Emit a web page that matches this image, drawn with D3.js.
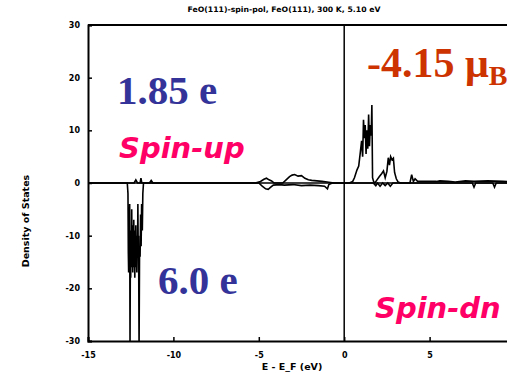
<!DOCTYPE html>
<html>
<head>
<meta charset="utf-8">
<script src="https://cdn.jsdelivr.net/npm/d3@7"></script>
<style>
html,body{margin:0;padding:0;background:#fff;overflow:hidden;}
svg{display:block;}
</style>
</head>
<body>
<script>
// ---- data ----
const xTicks = [-15, -10, -5, 0, 5];
const yTicks = [-30, -20, -10, 0, 10, 20, 30];
const xTickLabels = ["-15", "-10", "-5", "0", "5"];
const yTickLabels = ["-30", "-20", "-10", "0", "10", "20", "30"];

// spin-up DOS (plotted positive)
const upEnergy = [-15, -12.3, -12.2, -12.1, -11.95, -11.9, -11.85, -11.4, -11.3, -11.2, -11.1, -5.2, -4.9, -4.7, -4.55, -4.4, -4.25, -4.1, -3.6, -3.4, -3.2, -3.05, -2.9, -2.7, -2.5, -2.3, -2.1, -1.9, -1.6, -1.3, -1.0, -0.6, 0.3, 0.5, 0.6, 0.75, 0.85, 0.95, 1.02, 1.08, 1.13, 1.18, 1.23, 1.28, 1.33, 1.38, 1.43, 1.48, 1.53, 1.58, 1.62, 1.66, 1.72, 1.8, 1.9, 2.05, 2.2, 2.3, 2.4, 2.5, 2.58, 2.65, 2.72, 2.8, 2.88, 2.95, 3.05, 3.15, 3.3, 3.85, 3.95, 4.05, 4.15, 4.3, 4.6, 5.4, 5.6, 6.1, 6.5, 7.1, 7.6, 8.4, 9.3, 10];
const upDos = [0, 0, 0.6, 0, 0, 0.9, 0, 0, 0.5, 0, 0, 0, 0.3, 0.7, 0.9, 0.6, 0.4, 0, 0, 0.6, 1.2, 1.5, 1.6, 1.3, 1.4, 0.9, 0.6, 0.5, 0.4, 0.3, 0.2, 0, 0, 0.3, 1, 2.5, 3.2, 6, 8, 5, 12, 8.5, 11, 5.5, 10, 6.5, 13, 7, 11, 9, 14.8, 1, 0.3, 0, 0.5, 1.2, 1.8, 2.3, 1, 2.2, 4.8, 3.4, 5, 4.4, 4.7, 2, 0.8, 0.2, 0, 0, 1.6, 0.3, 0.8, 0.3, 0.3, 0.3, 0.4, 0.3, 0.2, 0.4, 0.3, 0.4, 0.3, 0.2];

// spin-down DOS (plotted negative)
const dnEnergy = [-15, -12.8, -12.7, -12.66, -12.64, -12.62, -12.6, -12.58, -12.56, -12.54, -12.52, -12.5, -12.48, -12.46, -12.44, -12.42, -12.4, -12.38, -12.36, -12.34, -12.32, -12.3, -12.28, -12.26, -12.24, -12.22, -12.2, -12.18, -12.16, -12.14, -12.12, -12.1, -12.08, -12.06, -12.04, -12.01, -11.98, -11.95, -11.92, -11.89, -11.86, -11.82, -11.79, -11.75, -11.7, -5.0, -4.8, -4.6, -4.45, -4.3, -4.15, -3.8, -3.5, -3.0, -2.5, -2.0, -1.5, -1.15, -0.98, -0.9, -0.7, 1.7, 1.85, 1.95, 2.1, 2.25, 2.4, 2.55, 2.7, 2.85, 3.2, 7.5, 7.6, 7.7, 8.7, 8.8, 8.9, 10];
const dnDos = [0, 0, 0, -2, -13, -17, -8, -15, -4, -31, -14, -18, -9, -16, -5, -14, -8, -17, -10, -16, -7, -15, -9, -18, -11, -16, -8, -15, -10, -17, -12, -13, -4, -13, -10, -31, -12, -14, -6, -12, -4, -9, -2, 0, 0, 0, -0.6, -1.1, -1.2, -0.8, -0.4, -0.3, -0.4, -0.3, -0.5, -0.4, -0.5, -0.6, -1.1, -0.3, 0, 0, -0.5, 0, -0.6, 0, -0.5, 0, -0.6, 0, 0, 0, -0.8, 0, 0, -0.8, 0, 0];

// ---- layout ----
const W = 507, H = 374;
const padL = 88, padT = 25, padB = 341, padR = 515;

const svg = d3.select("body").append("svg").attr("width", W).attr("height", H);
svg.append("rect").attr("width", W).attr("height", H).attr("fill", "#fff");

const x = d3.scaleLinear().domain([-15, 10]).range([padL, padR]);
const y = d3.scaleLinear().domain([-30, 30]).range([padB, padT]);

svg.append("defs").append("clipPath").attr("id", "clip")
  .append("rect").attr("x", padL).attr("y", padT).attr("width", padR - padL).attr("height", padB - padT);

// axes (inward ticks)
const yAxis = d3.axisLeft(y).tickValues(yTicks).tickSize(-4)
  .tickFormat((d, i) => yTickLabels[i]).tickPadding(8);
const gy = svg.append("g").attr("transform", `translate(${padL},0)`).call(yAxis);
const xAxis = d3.axisBottom(x).tickValues(xTicks).tickSize(-4)
  .tickFormat((d, i) => xTickLabels[i]).tickPadding(11);
const gx = svg.append("g").attr("transform", `translate(0,${padB})`).call(xAxis);
[gx, gy].forEach(g => {
  g.select(".domain").attr("stroke", "#000").attr("stroke-width", 2);
  g.selectAll(".tick line").attr("stroke", "#000").attr("stroke-width", 1.5);
  g.selectAll(".tick text").attr("font-family", "DejaVu Sans, sans-serif")
    .attr("font-size", 8).attr("font-weight", "bold").attr("fill", "#000");
});

// top frame line
svg.append("line").attr("x1", padL).attr("x2", padR).attr("y1", padT).attr("y2", padT)
  .attr("stroke", "#000").attr("stroke-width", 2);

// zero lines
svg.append("line").attr("x1", padL).attr("x2", padR).attr("y1", y(0)).attr("y2", y(0))
  .attr("stroke", "#000").attr("stroke-width", 1.5);
svg.append("line").attr("x1", x(0)).attr("x2", x(0)).attr("y1", padT).attr("y2", padB)
  .attr("stroke", "#000").attr("stroke-width", 1.5);

// data lines
const line = d3.line().x(d => x(d[0])).y(d => y(d[1]));
const gData = svg.append("g").attr("clip-path", "url(#clip)");
gData.append("path").datum(upEnergy.map((e, i) => [e, upDos[i]]))
  .attr("d", line).attr("fill", "none").attr("stroke", "#000").attr("stroke-width", 1.6);
gData.append("path").datum(dnEnergy.map((e, i) => [e, dnDos[i]]))
  .attr("d", line).attr("fill", "none").attr("stroke", "#000").attr("stroke-width", 1.6);

// titles
svg.append("text").attr("x", 284).attr("y", 12).attr("text-anchor", "middle")
  .attr("font-family", "DejaVu Sans, sans-serif").attr("font-size", 7.5).attr("font-weight", "bold")
  .attr("textLength", 193).attr("lengthAdjust", "spacingAndGlyphs")
  .text("FeO(111)-spin-pol, FeO(111), 300 K, 5.10 eV");
svg.append("text").attr("x", 292).attr("y", 370).attr("text-anchor", "middle")
  .attr("font-family", "DejaVu Sans, sans-serif").attr("font-size", 9.5).attr("font-weight", "bold")
  .text("E - E_F (eV)");
svg.append("text").attr("transform", "translate(29,221) rotate(-90)").attr("text-anchor", "middle")
  .attr("font-family", "DejaVu Sans, sans-serif").attr("font-size", 9.5).attr("font-weight", "bold")
  .text("Density of States");

// annotations
const serif = "Liberation Serif, Times New Roman, serif";
svg.append("text").attr("x", 117).attr("y", 104).attr("font-family", serif).attr("font-weight", "bold")
  .attr("font-size", 41).attr("fill", "#333399").text("1.85 e");
svg.append("text").attr("x", 158).attr("y", 294).attr("font-family", serif).attr("font-weight", "bold")
  .attr("font-size", 41).attr("fill", "#333399").text("6.0 e");
const mom = svg.append("text").attr("x", 367).attr("y", 77).attr("font-family", serif).attr("font-weight", "bold")
  .attr("font-size", 42).attr("fill", "#cc3300");
mom.append("tspan").text("-4.15 μ");
mom.append("tspan").attr("font-size", 28).attr("dy", 8).text("B");

const sans = "DejaVu Sans, sans-serif";
svg.append("text").attr("x", 119).attr("y", 158).attr("font-family", sans).attr("font-weight", "bold")
  .attr("font-style", "italic").attr("font-size", 29).attr("fill", "#ff0066").text("Spin-up");
svg.append("text").attr("x", 375).attr("y", 318).attr("font-family", sans).attr("font-weight", "bold")
  .attr("font-style", "italic").attr("font-size", 29).attr("fill", "#ff0066").text("Spin-dn");
</script>
</body>
</html>
